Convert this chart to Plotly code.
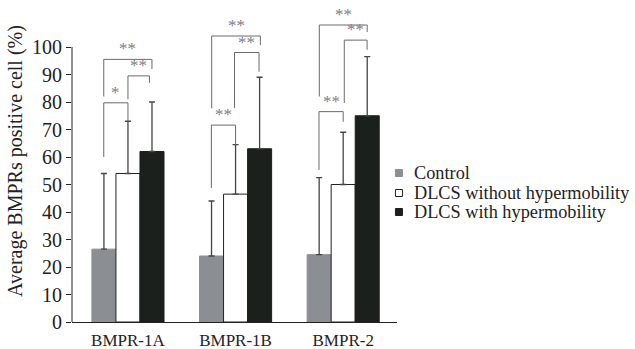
import plotly.graph_objects as go

categories = ["BMPR-1A", "BMPR-1B", "BMPR-2"]
series_names = ["Control", "DLCS without hypermobility", "DLCS with hypermobility"]
control = [26.5, 24.0, 24.5]
control_err_top = [54.0, 44.0, 52.5]
without_hm = [54.0, 46.5, 50.0]
without_hm_err_top = [73.0, 64.5, 69.0]
with_hm = [62.0, 63.0, 75.0]
with_hm_err_top = [80.0, 89.0, 96.5]
y_ticks = list(range(0, 101, 10))

# significance brackets: (group index, left offset, right offset, top, left end, right end, label)
brackets_group = [0, 0, 0, 1, 1, 1, 2, 2, 2]
brackets_left = [-0.225, 0.0, -0.225, -0.225, -0.01, -0.222, -0.225, 0.01, -0.222]
brackets_right = [0.0, 0.2, 0.223, 0.0, 0.218, 0.23, 0.0, 0.222, 0.223]
brackets_top = [79.7, 89.5, 95.5, 71.6, 98.0, 104.0, 76.5, 102.5, 108.0]
brackets_lbot = [60.0, 81.0, 82.0, 48.7, 77.8, 77.7, 55.3, 79.6, 82.0]
brackets_rbot = [73.0, 87.0, 92.0, 64.4, 91.0, 100.7, 72.8, 99.0, 105.5]
brackets_label = ["*", "**", "**", "**", "**", "**", "**", "**", "**"]

FONT = "Liberation Serif, Times New Roman, serif"
fills = ["#8b8e93", "#ffffff", "#1b201d"]
outlines = ["#8b8e93", "#222222", "#1b201d"]
vals = [control, without_hm, with_hm]
tops = [control_err_top, without_hm_err_top, with_hm_err_top]

x = list(range(len(categories)))
fig = go.Figure()
for name, v, t, fc, lc in zip(series_names, vals, tops, fills, outlines):
    fig.add_trace(go.Bar(
        x=x, y=v, name=name, showlegend=False,
        marker=dict(color=fc, line=dict(color=lc, width=1)),
        error_y=dict(type="data", symmetric=False,
                     array=[a - b for a, b in zip(t, v)],
                     arrayminus=[0] * len(v),
                     color="#444444", thickness=1.3, width=3),
    ))

line_style = dict(color="#6a6a6a", width=1)
for g, l, r, top, lb, rb, lab in zip(brackets_group, brackets_left, brackets_right,
                                     brackets_top, brackets_lbot, brackets_rbot, brackets_label):
    xl, xr = g + l, g + r
    fig.add_shape(type="path",
                  path=f"M {xl},{lb} L {xl},{top} L {xr},{top} L {xr},{rb}",
                  xref="x", yref="y", line=line_style)
    fig.add_annotation(x=(xl + xr) / 2, y=top, text=lab, showarrow=False,
                       xref="x", yref="y", yanchor="bottom", yshift=-1,
                       font=dict(family=FONT, size=17, color="#808080"))

# y axis line from 0 to 100
fig.add_shape(type="line", xref="paper", yref="y", x0=0, x1=0, y0=0, y1=100,
              line=dict(color="#222222", width=1))

# legend (markers + text)
legend_y = [0.4627, 0.4006, 0.3416]
for name, fc, ly in zip(series_names, fills, legend_y):
    fig.add_shape(type="rect", xref="paper", yref="paper",
                  xsizemode="pixel", ysizemode="pixel",
                  xanchor=1.006, yanchor=ly, x0=-3.5, x1=3.5, y0=-3.5, y1=3.5,
                  fillcolor=fc,
                  line=dict(color="#222222" if fc == "#ffffff" else fc, width=1))
    fig.add_annotation(x=1.046, y=ly, xref="paper", yref="paper", text=name,
                       showarrow=False, xanchor="left", yanchor="middle",
                       font=dict(family=FONT, size=18.3, color="#222222"))

fig.update_layout(
    width=635, height=349,
    margin=dict(l=72, r=238, t=0, b=27),
    paper_bgcolor="white", plot_bgcolor="white",
    barmode="group", bargap=0.33, bargroupgap=0,
    showlegend=False,
    font=dict(family=FONT, size=17, color="#222222"),
    xaxis=dict(range=[-0.52, 2.5], tickvals=x, ticktext=categories,
               showline=True, linecolor="#222222", linewidth=1,
               ticks="", showgrid=False, zeroline=False,
               tickfont=dict(size=17), ticklabelstandoff=3),
    yaxis=dict(range=[0, 322 / 2.75], tickvals=y_ticks, ticks="outside",
               ticklen=5, tickcolor="#222222", showline=False, showgrid=False,
               zeroline=False, tickfont=dict(size=20),
               title=dict(text="Average BMPRs positive cell (%)",
                          font=dict(size=20), standoff=4)),
)
fig.write_html("out.html")
